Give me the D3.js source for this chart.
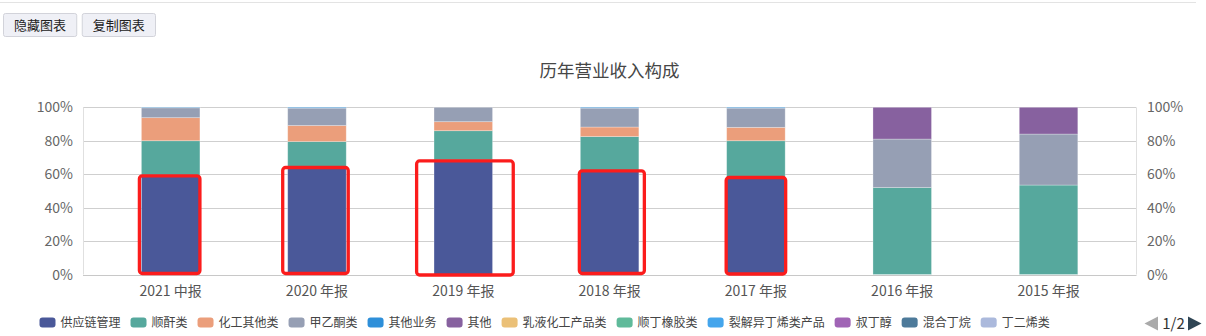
<!DOCTYPE html>
<html><head><meta charset="utf-8">
<script src="https://cdn.jsdelivr.net/npm/d3@7/dist/d3.min.js"></script>
<style>
html,body{margin:0;padding:0;background:#fff;}
svg{display:block;font-family:"Noto Sans CJK SC","Noto Sans",sans-serif;}
</style></head>
<body><svg id="c" width="1206" height="336"></svg>
<script>
const categories = ["2021 中报","2020 年报","2019 年报","2018 年报","2017 年报","2016 年报","2015 年报"];
const seriesNames = ["供应链管理","顺酐类","化工其他类","甲乙酮类","其他业务","其他","乳液化工产品类","顺丁橡胶类","裂解异丁烯类产品","叔丁醇","混合丁烷","丁二烯类"];
const seriesColors = ["#4a5899","#56a89d","#eb9e7b","#969fb4","#2e8fd9","#87619f","#ebc077","#5fba9a","#44a5ec","#a064b5","#4d7a9a","#abb9dc"];
// percentage values per series, one per category
const s供应链管理 = [59, 64, 68.5, 62, 58, 0, 0];
const s顺酐类 = [21, 15.5, 17.5, 20.5, 22, 52, 53.5];
const s化工其他类 = [13.8, 9.6, 5.4, 5.7, 8, 0, 0];
const s甲乙酮类 = [5.9, 10.4, 8.6, 11.3, 11.5, 29, 30.5];
const s其他业务 = [0.3, 0.5, 0, 0.5, 0.5, 0, 0];
const s其他 = [0, 0, 0, 0, 0, 19, 16];
const s乳液化工产品类 = [0,0,0,0,0,0,0];
const s顺丁橡胶类 = [0,0,0,0,0,0,0];
const s裂解异丁烯类产品 = [0,0,0,0,0,0,0];
const s叔丁醇 = [0,0,0,0,0,0,0];
const s混合丁烷 = [0,0,0,0,0,0,0];
const s丁二烯类 = [0,0,0,0,0,0,0];
const yTicks = [0,20,40,60,80,100];
const yTickLabels = ["0%","20%","40%","60%","80%","100%"];
const title = "历年营业收入构成";
const buttons = ["隐藏图表","复制图表"];
const pagerText = "1/2";
// annotation boxes (red) around 供应链管理 segments: category index
const highlightIdx = [0,1,2,3,4];

const seriesValues = [s供应链管理,s顺酐类,s化工其他类,s甲乙酮类,s其他业务,s其他,s乳液化工产品类,s顺丁橡胶类,s裂解异丁烯类产品,s叔丁醇,s混合丁烷,s丁二烯类];
const table = categories.map((c,i)=>{const o={cat:c}; seriesNames.forEach((n,j)=>o[n]=seriesValues[j][i]); return o;});

const svg = d3.select("#c");
const plot = {left:83, right:1136, top:107.3, bottom:274.5};
// styling of highlight boxes (pads in px: left,right,top,bottom)
const boxPads = [[2,0,0,-1],[5,2,0,-1],[17.4,20.7,-1,0.5],[1,5.5,0,-1],[0.5,0.5,0,-0.5]];

// top rule
svg.append("line").attr("x1",0).attr("x2",1196).attr("y1",2.5).attr("y2",2.5).attr("stroke","#e3e3e3").attr("stroke-width",1);

// buttons
const bx = d3.scaleBand().domain(buttons).range([3.5,155.5]).paddingInner(0.07);
const bg = svg.selectAll("g.btn").data(buttons).join("g").attr("class","btn");
bg.append("rect").attr("x",d=>bx(d)).attr("y",13.5).attr("width",bx.bandwidth()).attr("height",23).attr("rx",2)
  .attr("fill","#eff0f6").attr("stroke","#d2d3da");
bg.append("text").attr("x",d=>bx(d)+bx.bandwidth()/2).attr("y",30).attr("text-anchor","middle")
  .attr("font-size",13).attr("fill","#222").text(d=>d);

// title
svg.append("text").attr("x",609.5).attr("y",77).attr("text-anchor","middle").attr("font-size",17.5).attr("fill","#464646").text(title);

const x = d3.scaleBand().domain(categories).range([97.5,1121.7]).paddingInner(0.6).paddingOuter(0.3);
const y = d3.scaleLinear().domain([0,100]).range([plot.bottom, plot.top]);

// grid
svg.append("g").selectAll("line").data(yTicks.filter(t=>t>0)).join("line")
  .attr("x1",plot.left).attr("x2",plot.right).attr("y1",d=>Math.round(y(d))+0.5).attr("y2",d=>Math.round(y(d))+0.5)
  .attr("stroke","#cfcfcf");
// side axis lines
[plot.left, plot.right].forEach(px=>{
  svg.append("line").attr("x1",px+0.5).attr("x2",px+0.5).attr("y1",y(100)).attr("y2",y(0)).attr("stroke","#e0e0e0");
});

// bars
const stack = d3.stack().keys(seriesNames)(table);
const layers = svg.append("g").selectAll("g").data(stack).join("g").attr("fill",(d,i)=>seriesColors[i]);
layers.selectAll("rect").data(d=>d.filter(p=>p[1]-p[0]>0)).join("rect")
  .attr("x",p=>x(p.data.cat)).attr("width",x.bandwidth())
  .attr("y",p=>y(p[1])).attr("height",p=>y(p[0])-y(p[1]))
  .attr("stroke","rgba(255,255,255,0.35)").attr("stroke-width",0.8);

// x axis line
svg.append("line").attr("x1",plot.left).attr("x2",plot.right+0.5).attr("y1",Math.round(y(0))+0.5).attr("y2",Math.round(y(0))+0.5).attr("stroke","#c8c8c8");

// y labels
const yl = svg.append("g").attr("font-size",14).attr("fill","#666");
yl.selectAll("text.l").data(yTicks).join("text").attr("class","l")
  .attr("x",plot.left-10).attr("y",d=>y(d)).attr("dy","0.36em").attr("text-anchor","end").text((d,i)=>yTickLabels[i]);
yl.selectAll("text.r").data(yTicks).join("text").attr("class","r")
  .attr("x",plot.right+11).attr("y",d=>y(d)).attr("dy","0.36em").attr("text-anchor","start").text((d,i)=>yTickLabels[i]);

// x labels
svg.append("g").attr("font-size",14).attr("fill","#555").selectAll("text").data(categories).join("text")
  .attr("x",d=>x(d)+x.bandwidth()/2).attr("y",296).attr("text-anchor","middle").text(d=>d);

// red annotation boxes
svg.append("g").selectAll("rect").data(highlightIdx).join("rect")
  .attr("x",(i,k)=>x(categories[i])-boxPads[k][0])
  .attr("width",(i,k)=>x.bandwidth()+boxPads[k][0]+boxPads[k][1])
  .attr("y",(i,k)=>y(s供应链管理[i])-boxPads[k][2])
  .attr("height",(i,k)=>y(0)+boxPads[k][3]-(y(s供应链管理[i])-boxPads[k][2]))
  .attr("rx",3).attr("fill","none").attr("stroke","#fb1c1c").attr("stroke-width",3.3);

// legend
const lg = svg.append("g").attr("font-size",12).attr("fill","#444");
let lx = 39.5;
seriesNames.forEach((n,i)=>{
  lg.append("rect").attr("x",lx).attr("y",317.5).attr("width",16).attr("height",10).attr("rx",3).attr("fill",seriesColors[i]);
  const t = lg.append("text").attr("x",lx+21).attr("y",322.5).attr("dy","0.36em").text(n);
  lx += 21 + t.node().getComputedTextLength() + 10;
});
// pager
svg.append("path").attr("d","M1158,316.5L1144.5,323.5L1158,330.5Z").attr("fill","#aaaaaa");
svg.append("text").attr("x",1173.5).attr("y",323.5).attr("dy","0.36em").attr("text-anchor","middle").attr("font-size",15).attr("fill","#333").text(pagerText);
svg.append("path").attr("d","M1188,316.5L1201.5,323.5L1188,330.5Z").attr("fill","#2f4554");
</script></body></html>
